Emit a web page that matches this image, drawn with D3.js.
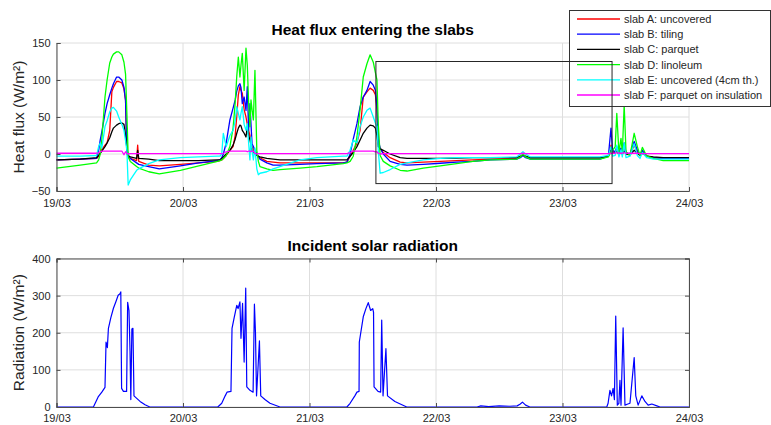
<!DOCTYPE html>
<html>
<head>
<meta charset="utf-8">
<script src="https://cdn.jsdelivr.net/npm/d3@7"></script>
<style>
  body { margin: 0; background: #fff; }
  svg { display: block; font-family: "Liberation Sans", Arial, Helvetica, sans-serif; }
</style>
</head>
<body>
<div id="chart"></div>
<script>
// hours since 19/03 00:00
var dayTicks = [0, 24, 48, 72, 96, 120];
var dayLabels = ["19/03", "20/03", "21/03", "22/03", "23/03", "24/03"];
var fluxTicks = [-50, 0, 50, 100, 150];
var solarTicks = [0, 100, 200, 300, 400];

var seriesNames = ["slab A: uncovered", "slab B: tiling", "slab C: parquet", "slab D: linoleum",
  "slab E: uncovered (4cm th.)", "slab F: parquet on insulation"];
var seriesColors = ["#ff0000", "#0000ff", "#000000", "#00ff00", "#00ffff", "#ff00ff"];

var fluxHours = [
  0, 4.5, 7.6, 8.0, 8.3, 8.6, 9.2, 9.6, 10.1, 10.5, 10.8, 11.4, 11.8, 12.4, 12.8, 13.1, 13.35, 13.6, 14.0, 15.2, 15.4, 15.6, 17.5, 19.5, 23.5, 27, 30.5,
  31.0, 31.35, 31.65, 32.2, 32.9, 33.5, 33.9, 34.2, 34.5, 34.8, 35.0, 35.25, 35.6, 35.95, 36.2, 36.45, 36.7, 36.9, 37.1, 37.35, 37.65, 38.0, 38.3, 38.6, 39.9, 41.1, 42.4, 46.2, 49.4, 54.4,
  55.1, 55.7, 56.3, 57.0, 57.6, 58.2, 58.9, 59.5, 60.1, 60.5, 60.8, 61.05, 61.4, 62.0, 63.3, 65.2, 66.5, 69.6, 72.8, 75.9, 79.0, 82.3, 87.3, 88.0, 88.5, 89.0, 89.9, 95.5,
  103.1, 104.7, 105.2, 105.5, 106.0, 106.3, 106.7, 107.1, 107.35, 107.7, 108.05, 108.8, 109.6, 110.2, 110.7, 111.15, 112.0, 113.25, 115.1, 120
];

var slabA = [
  -8, -7, -6, -3, 2, 6, 12, 15, 32, 84, 90, 98, 98, 96, 88, 73, 0, -3, -6, -9, 12, -10, -15, -16, -14, -12, -10,
  -9, -8, -6, -2, 5, 10, 25, 51, 80, 91, 86, 82, 60, 50, 40, 32, 25, 18, 10, 6, 3, 0, -3, -5, -10, -11, -12, -12, -12, -12,
  -11, -3, 5, 15, 32, 77, 84, 89, 86, 80, 60, 14, 8, 2, -5, -11, -12, -11, -10, -9, -8, -7, -6, -4, -1, -4, -6, -6,
  -6, -3, 12, 4, 2, 8, 1, 5, 1, 12, 1, -1, 12, 3, -2, 3, -3, -5, -6, -6
];
var slabB = [
  -8, -7, -6, 5, 19, 30, 55, 68, 80, 89, 95, 104, 104, 100, 90, 72, 5, -2, -6, -12, -13, -14, -17, -20, -16, -12, -9,
  -8, -5, 0, 15, 46, 62, 73, 85, 92, 95, 90, 68, 77, 59, 91, 32, 68, 40, 14, 10, 5, 0, -4, -7, -12, -15, -15, -14, -13, -12,
  -11, 0, 20, 41, 64, 77, 86, 98, 93, 86, 64, 20, 8, 0, -10, -14, -15, -14, -12.5, -11, -10, -8, -7, -5, -2, -5, -7, -7,
  -7, -3, 35, 5, 3, 10, 2, 8, 2, 15, 2, 0, 17, 5, -2, 5, -3, -5, -6, -6
];
var slabC = [
  -8, -7, -5, -2, 1, 4, 10, 15, 22, 30, 35, 39, 41, 42, 40, 25, 8, -2, -4, -6, 5, -6, -7, -9, -9, -9, -8,
  -8, -6, -4, 0, 5, 12, 20, 28, 35, 39, 38, 32, 28, 23, 37, 25, 19, 12, 5, 3, 0, -2, -3, -4, -6, -7, -8, -8, -8, -8,
  -8, -3, 2, 10, 19, 28, 35, 39, 38, 35, 25, 10, 7, 5, 0, -5, -6, -6, -6, -5.5, -5, -5, -5, -3, -1, -3, -5, -5,
  -5, -3, 6, 2, 1, 3, 0, 2, 0, 4, 0, -1, 5, 1, -2, 1, -3, -4, -5, -5
];
var slabD = [
  -19, -15, -12, -8, 0, 20, 77, 100, 123, 131, 135, 138, 138, 134, 124, 108, 55, -4, -10, -17, -18, -19, -24, -27, -22, -16, -10,
  -9, -8, -6, -2, 10, 35, 69, 105, 131, 104, 120, 136, 86, 143, 120, 69, 37, 73, 60, 46, 113, 5, -10, -17, -20, -22, -21, -19, -17, -13,
  -12, -10, -3, 23, 60, 104, 122, 134, 124, 110, 100, 40, -2, -10, -16, -22, -23, -19, -16, -13, -10, -8, -7, -4, 0, -4, -7, -7,
  -7, -4, 3, 5, 10, 55, 2, 21, 2, 66, 3, -2, 28, 10, -2, 9, -3, -6, -9, -9
];
var slabE = [
  -3, -3, -2, 10, 15, 8, 37, 45, 57, 62, 63, 58, 50, 40, 32, 18, 5, -42, -35, -22, -21, -20, -13, -8, -5, -4, -3,
  -3, 0, 28, 10, 25, 32, 45, 64, 55, 46, 55, 64, 40, 32, 41, 15, -8, 23, 5, -8, 8, -20, -28, -26, -24, -20, -17, -8, -5, -3,
  -3, 5, 19, 15, 37, 50, 59, 62, 50, 42, 37, 5, -26, -25, -21, -14, -12, -8, -6, -5, -5, -5, -4, 0, 3, 0, -4, -4,
  -4, -2, 10, -3, -2, 12, -4, 6, -4, 15, -5, -3, 14, -2, -6, 2, -5, -7, -7, -7
];
var slabF = [
  1, 1, 1, 2, 3, 4, 4, 4, 4, 4, 4, 4, 4, 4, -1, 3, 1, 0, 0.5, 0.5, 0.5, 0.5, 0.5, 0.5, 0.5, 0.5, 0.5,
  0.5, 0.5, 1, 3, 4, 4, 4, 4, 4, 4, 4, 4, 4, 4, 3, 4, 4, 3, 4, 4, 1, 0, 0.5, 0.5, 0.5, 0.5, 0.5, 0.5, 0.5, 0.5,
  0.5, 2, 4, 4, 4, 4, 4, 4, 4, 3, 3, 1, 0, 0.5, 0.5, 0.5, 0.5, 0.5, 0.5, 0.5, 0.5, 0.5, 0.5, 0.5, 1, 0.5, 0.5, 0.5,
  0.5, 0.5, 1, 1, 1, 2, 1, 1, 1, 2, 1, 1, 1, 1, 0.5, 0.5, 0.5, 0.5, 0.5, 0.5
];

var solarHours = [
  0, 7.0, 7.9, 8.6, 9.2, 9.4, 9.65, 9.85, 10.3, 10.8, 11.3, 11.7, 12.05, 12.2, 12.35, 12.7, 13.3, 13.5, 13.75, 13.95, 14.1, 14.3, 14.5, 14.7, 15.85, 16.8, 17.7,
  30.6, 31.35, 32.0, 32.35, 33.1, 33.3, 33.7, 34.2, 34.45, 34.8, 35.0, 35.3, 35.6, 35.9, 36.1, 36.7, 37.3, 37.55, 37.75, 37.95, 38.5, 38.75, 39.55, 40.5, 42.4,
  55.1, 55.7, 56.6, 57.0, 57.4, 57.45, 58.2, 58.7, 59.15, 59.6, 60.0, 60.15, 60.25, 61.0, 61.5, 61.7, 61.95, 62.5, 62.8, 64.2, 66.45,
  79.8, 80.5, 82, 84, 86, 87.4, 88.0, 88.4, 89.0, 89.8,
  104.4, 104.65, 105.0, 105.3, 105.6, 105.85, 106.1, 106.4, 106.7, 106.9, 107.1, 107.5, 107.85, 108.4, 108.8, 109.6, 109.9, 110.35, 111.05, 111.65, 112.25, 112.95, 113.9, 114.5, 120
];
var solarValues = [
  0, 0, 27, 40, 53, 175, 160, 212, 240, 266, 285, 301, 305, 310, 50, 42, 42, 282, 260, 150, 20, 210, 212, 30, 15, 6, 0,
  0, 10, 30, 40, 42, 212, 240, 274, 265, 283, 185, 279, 121, 320, 54, 45, 40, 277, 200, 30, 178, 30, 20, 10, 0,
  0, 10, 30, 40, 42, 175, 243, 265, 281, 260, 265, 255, 54, 42, 40, 234, 30, 157, 30, 15, 0,
  0, 3, 1, 3, 2, 3, 8, 13, 5, 0,
  0, 10, 45, 30, 50, 20, 245, 5, 10, 72, 5, 213, 5, 8, 10, 133, 30, 5, 30, 15, 5, 8, 3, 0, 0
];

// zoom rectangle drawn on the heat flux plot (hours, W/m2)
var zoomBox = { h0: 60.6, h1: 105.4, v0: -40, v1: 125 };

var svgWidth = 771;
var svgHeight = 425;
var axisColor = "#4d4d4d";
var textColor = "#262626";
var gridColor = "#dedede";

var svg = d3.select("#chart").append("svg")
  .attr("width", svgWidth)
  .attr("height", svgHeight);

var x = d3.scaleLinear().domain([0, 120]).range([56.5, 689]);
var yFlux = d3.scaleLinear().domain([-50, 150]).range([191, 43]);
var ySolar = d3.scaleLinear().domain([0, 400]).range([407, 258.5]);

function drawGrid(g, y, yTicks) {
  g.selectAll("line.vg").data(dayTicks).enter().append("line")
    .attr("x1", d => x(d)).attr("x2", d => x(d))
    .attr("y1", y.range()[0]).attr("y2", y.range()[1])
    .attr("stroke", gridColor).attr("stroke-width", 1);
  g.selectAll("line.hg").data(yTicks).enter().append("line")
    .attr("x1", x.range()[0]).attr("x2", x.range()[1])
    .attr("y1", d => y(d)).attr("y2", d => y(d))
    .attr("stroke", gridColor).attr("stroke-width", 1);
}

function drawAxes(g, y, yTicks, pad, box) {
  var xAxis = d3.axisBottom(x).tickValues(dayTicks)
    .tickFormat((d, i) => dayLabels[i]).tickSize(-4).tickPadding(pad);
  var yAxis = d3.axisLeft(y).tickValues(yTicks).tickSize(-4).tickPadding(6);
  var gx = g.append("g").attr("transform", `translate(0,${y.range()[0]})`).call(xAxis);
  var gy = g.append("g").attr("transform", `translate(${x.range()[0]},0)`).call(yAxis);
  var parts = [gx, gy];
  if (box) {
    parts.push(g.append("g").attr("transform", `translate(0,${y.range()[1]})`)
      .call(d3.axisTop(x).tickValues(dayTicks).tickFormat("").tickSize(-4)));
    parts.push(g.append("g").attr("transform", `translate(${x.range()[1]},0)`)
      .call(d3.axisRight(y).tickValues(yTicks).tickFormat("").tickSize(-4)));
  }
  parts.forEach(function(p) {
    p.select(".domain").attr("stroke", axisColor);
    p.selectAll(".tick line").attr("stroke", axisColor);
    p.selectAll("text").attr("fill", textColor).style("font-size", "11px")
      .style("font-family", '"Liberation Sans", Arial, sans-serif');
  });
}

// ---------- heat flux plot ----------
var fluxPlot = svg.append("g");
drawGrid(fluxPlot, yFlux, fluxTicks);

var fluxSeries = [slabA, slabB, slabC, slabD, slabE, slabF];
fluxSeries.forEach(function(vals, k) {
  var line = d3.line()
    .x((d, i) => x(fluxHours[i]))
    .y(d => yFlux(d));
  fluxPlot.append("path")
    .datum(vals)
    .attr("d", line)
    .attr("fill", "none")
    .attr("stroke", seriesColors[k])
    .attr("stroke-width", 1.3)
    .attr("stroke-linejoin", "round");
});

drawAxes(fluxPlot, yFlux, fluxTicks, 8, false);

fluxPlot.append("text")
  .attr("x", (x.range()[0] + x.range()[1]) / 2)
  .attr("y", 35)
  .attr("text-anchor", "middle")
  .attr("font-weight", "bold")
  .attr("font-size", "15.5px")
  .attr("fill", "#000")
  .text("Heat flux entering the slabs");

fluxPlot.append("text")
  .attr("transform", "translate(24," + (yFlux(50)) + ") rotate(-90)")
  .attr("text-anchor", "middle")
  .attr("font-size", "15.5px")
  .attr("fill", textColor)
  .text("Heat flux (W/m²)");

// legend
var legend = svg.append("g");
legend.append("rect")
  .attr("x", 569.5).attr("y", 10.5)
  .attr("width", 201).attr("height", 96)
  .attr("fill", "#fff")
  .attr("stroke", "#333").attr("stroke-width", 1);
seriesNames.forEach(function(name, k) {
  var ly = 19 + k * 15.2;
  legend.append("line")
    .attr("x1", 577).attr("x2", 620)
    .attr("y1", ly).attr("y2", ly)
    .attr("stroke", seriesColors[k]).attr("stroke-width", 1.3);
  legend.append("text")
    .attr("x", 624).attr("y", ly + 4)
    .attr("font-size", "11px")
    .attr("fill", textColor)
    .text(name);
});

// zoom rectangle (drawn over the legend like in the original)
svg.append("rect")
  .attr("x", x(zoomBox.h0)).attr("y", yFlux(zoomBox.v1))
  .attr("width", x(zoomBox.h1) - x(zoomBox.h0))
  .attr("height", yFlux(zoomBox.v0) - yFlux(zoomBox.v1))
  .attr("fill", "none")
  .attr("stroke", "#262626").attr("stroke-width", 1);

// ---------- solar radiation plot ----------
var solarPlot = svg.append("g");
drawGrid(solarPlot, ySolar, solarTicks);

solarPlot.append("path")
  .datum(solarValues)
  .attr("d", d3.line().x((d, i) => x(solarHours[i])).y(d => ySolar(d)))
  .attr("fill", "none")
  .attr("stroke", "#0000ff")
  .attr("stroke-width", 1.2)
  .attr("stroke-linejoin", "round");

drawAxes(solarPlot, ySolar, solarTicks, 7, true);

solarPlot.append("text")
  .attr("x", (x.range()[0] + x.range()[1]) / 2)
  .attr("y", 251)
  .attr("text-anchor", "middle")
  .attr("font-weight", "bold")
  .attr("font-size", "15.5px")
  .attr("fill", "#000")
  .text("Incident solar radiation");

solarPlot.append("text")
  .attr("transform", "translate(24," + (ySolar(200)) + ") rotate(-90)")
  .attr("text-anchor", "middle")
  .attr("font-size", "15.5px")
  .attr("fill", textColor)
  .text("Radiation (W/m²)");
</script>
</body>
</html>
